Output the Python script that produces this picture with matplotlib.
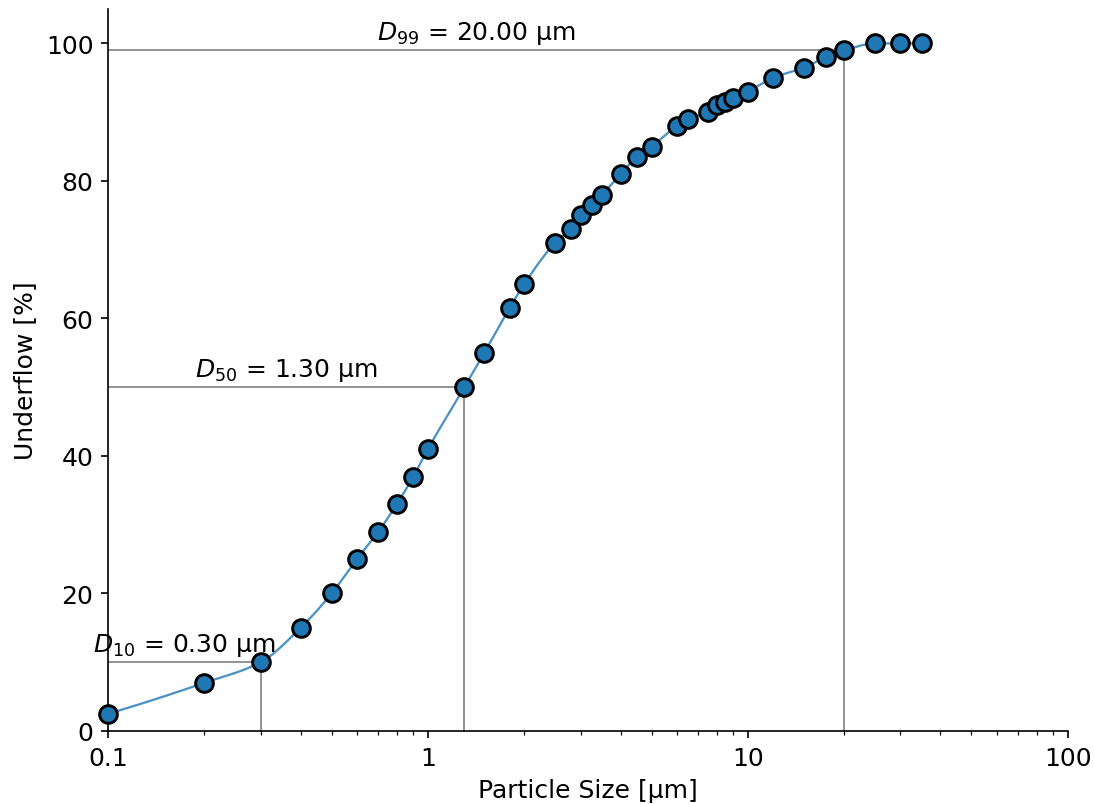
import numpy as np
import matplotlib
matplotlib.use("Agg")
import matplotlib.pyplot as plt

plt.rcParams["font.size"] = 12

# Data
particle_size = [0.1, 0.2, 0.3, 0.4, 0.5, 0.6, 0.7, 0.8, 0.9, 1.0,
                 1.3, 1.5, 1.8, 2.0, 2.5, 2.8, 3.0, 3.25, 3.5, 4.0,
                 4.5, 5.0, 6.0, 6.5, 7.5, 8.0, 8.5, 9.0, 10, 12,
                 15, 17.5, 20, 25, 30, 35]
underflow = [2.5, 7.0, 10.0, 15.0, 20.0, 25.0, 29.0, 33.0, 37.0, 41.0,
             50.0, 55.0, 61.5, 65.0, 71.0, 73.0, 75.0, 76.5, 78.0, 81.0,
             83.5, 85.0, 88.0, 89.0, 90.0, 91.0, 91.5, 92.0, 93.0, 95.0,
             96.5, 98.0, 99.0, 100.0, 100.0, 100.0]
d_labels = ["10", "50", "99"]
d_values = [0.30, 1.30, 20.00]
d_percent = [10, 50, 99]
x_ticks = [0.1, 1, 10, 100]
x_ticklabels = ["0.1", "1", "10", "100"]


def pchip(x, y, xq):
    x = np.asarray(x, float); y = np.asarray(y, float)
    h = np.diff(x); delta = np.diff(y) / h
    n = len(x); d = np.zeros(n)
    for k in range(1, n - 1):
        if delta[k - 1] * delta[k] > 0:
            w1 = 2 * h[k] + h[k - 1]; w2 = h[k] + 2 * h[k - 1]
            d[k] = (w1 + w2) / (w1 / delta[k - 1] + w2 / delta[k])
    def end(h0, h1, d0, d1):
        dd = ((2 * h0 + h1) * d0 - h0 * d1) / (h0 + h1)
        if np.sign(dd) != np.sign(d0):
            dd = 0.0
        elif np.sign(d0) != np.sign(d1) and abs(dd) > abs(3 * d0):
            dd = 3 * d0
        return dd
    d[0] = end(h[0], h[1], delta[0], delta[1])
    d[-1] = end(h[-1], h[-2], delta[-1], delta[-2])
    idx = np.clip(np.searchsorted(x, xq) - 1, 0, n - 2)
    t = (xq - x[idx]) / h[idx]
    h00 = 2 * t**3 - 3 * t**2 + 1; h10 = t**3 - 2 * t**2 + t
    h01 = -2 * t**3 + 3 * t**2; h11 = t**3 - t**2
    return h00 * y[idx] + h10 * h[idx] * d[idx] + h01 * y[idx + 1] + h11 * h[idx] * d[idx + 1]


fig = plt.figure(figsize=(1094 / 150, 805 / 150), dpi=150)
ax = fig.add_axes([0.0987, 0.0907, 0.8773, 0.8968])

lx = np.log10(particle_size)
xq = np.linspace(lx[0], lx[-1], 800)
yq = pchip(lx, underflow, xq)
ax.plot(10 ** xq, yq, color="#1f77b4", alpha=0.8, lw=1.1, zorder=2)
ax.plot(particle_size, underflow, "o", color="#1f77b4", mec="black",
        mew=1.4, ms=8.5, zorder=3, clip_on=False)

for lab, dv, dp in zip(d_labels, d_values, d_percent):
    ax.plot([0.1, dv], [dp, dp], color="gray", lw=0.8, zorder=1)
    ax.plot([dv, dv], [0, dp], color="gray", lw=0.8, zorder=1)
    ax.text(np.sqrt(0.1 * dv), dp + 0.6, f"$D_{{{lab}}}$ = {dv:.2f} µm",
            ha="center", va="bottom", fontsize=12)

ax.set_xscale("log")
ax.set_xlim(0.1, 100)
ax.set_ylim(0, 105)
ax.set_xticks(x_ticks)
ax.set_xticklabels(x_ticklabels)
ax.set_yticks([0, 20, 40, 60, 80, 100])
ax.spines["top"].set_visible(False)
ax.spines["right"].set_visible(False)
ax.set_xlabel("Particle Size [µm]")
ax.set_ylabel("Underflow [%]")

fig.savefig("out.png", dpi=150)
